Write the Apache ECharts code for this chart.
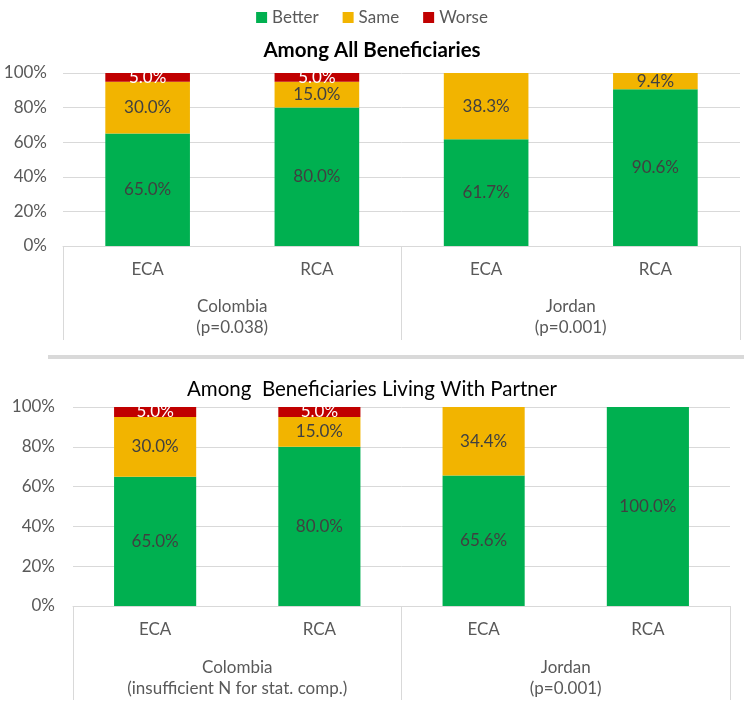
<!DOCTYPE html>
<html><head><meta charset="utf-8">
<script src="https://cdn.jsdelivr.net/npm/echarts@6/dist/echarts.min.js"></script>
<style>html,body{margin:0;padding:0;background:#fff}#c{width:744px;height:713px}</style>
</head><body><div id="c"></div>
<script>
const subCats = ['ECA', 'RCA', 'ECA', 'RCA'];
const groupsTop = ['Colombia\n(p=0.038)', 'Jordan\n(p=0.001)'];
const groupsBottom = ['Colombia\n(insufficient N for stat. comp.)', 'Jordan\n(p=0.001)'];
const titleTop = 'Among All Beneficiaries';
const titleBottom = 'Among  Beneficiaries Living With Partner';
const seriesNames = ['Better', 'Same', 'Worse'];
const colors = ['#00B050', '#F2B400', '#C00000'];
const topBetter = [65.0, 80.0, 61.7, 90.6];
const topSame = [30.0, 15.0, 38.3, 9.4];
const topWorse = [5.0, 5.0, 0, 0];
const botBetter = [65.0, 80.0, 65.6, 100.0];
const botSame = [30.0, 15.0, 34.4, 0];
const botWorse = [5.0, 5.0, 0, 0];
const yTicks = [0, 20, 40, 60, 80, 100];

const FONT = 'Lato';
const gray = '#595959';
const lineC = '#d9d9d9';
const FS = 17;

function mkSeries(vals, idx, axisIdx) {
  return {
    name: seriesNames[idx], type: 'bar', stack: 's' + axisIdx,
    xAxisIndex: axisIdx, yAxisIndex: axisIdx / 2,
    barWidth: '50%', data: vals,
    itemStyle: { color: colors[idx] },
    label: {
      show: true, position: 'inside', fontFamily: FONT, fontSize: FS,
      color: idx === 2 ? '#ffffff' : '#404040',
      formatter: p => p.value > 0 ? p.value.toFixed(1) + '%' : ''
    }
  };
}
function inner(gi) {
  return { type: 'category', gridIndex: gi, data: subCats, position: 'bottom',
    axisLine: { show: true, lineStyle: { color: lineC, width: 1 } },
    axisTick: { show: false },
    axisLabel: { margin: 15, fontFamily: FONT, fontSize: FS, color: gray } };
}
function outer(gi, data, m) {
  return { type: 'category', gridIndex: gi, data: data, position: 'bottom',
    boundaryGap: true,
    axisLine: { show: false },
    axisTick: { show: true, length: 94, lineStyle: { color: lineC, width: 1 } },
    axisLabel: { margin: m, fontFamily: FONT, fontSize: FS, color: gray, lineHeight: 21, interval: 0 } };
}
function yax(gi, m) {
  return { type: 'value', gridIndex: gi, min: 0, max: 100, interval: 20,
    axisLine: { show: false }, axisTick: { show: false },
    splitLine: { lineStyle: { color: lineC, width: 1 } },
    axisLabel: { margin: m, fontFamily: FONT, fontSize: FS, color: gray,
      formatter: v => yTicks.includes(v) ? v + '%' : '' } };
}

const chart = echarts.init(document.getElementById('c'), null, { renderer: 'canvas' });
chart.setOption({
  animation: false,
  backgroundColor: '#fff',
  legend: { data: seriesNames, top: 4, left: 'center', icon: 'rect', itemWidth: 11, itemHeight: 11, itemGap: 24,
    textStyle: { fontFamily: FONT, fontSize: FS, color: gray } },
  title: [
    { text: titleTop, left: 'center', top: 35, textStyle: { fontFamily: FONT, fontSize: 20.5, fontWeight: 'bold', color: '#000' } },
    { text: titleBottom, left: 'center', top: 374, textStyle: { fontFamily: FONT, fontSize: 20.5, fontWeight: 'normal', color: '#000' } }
  ],
  grid: [
    { left: 63, right: 4, top: 73, height: 173 },
    { left: 73, right: 14, top: 407, height: 199 }
  ],
  xAxis: [inner(0), outer(0, groupsTop, 50), inner(1), outer(1, groupsBottom, 51)],
  yAxis: [yax(0, 16), yax(1, 18)],
  series: [
    mkSeries(topBetter, 0, 0), mkSeries(topSame, 1, 0), mkSeries(topWorse, 2, 0),
    mkSeries(botBetter, 0, 2), mkSeries(botSame, 1, 2), mkSeries(botWorse, 2, 2)
  ],
  graphic: [
    { type: 'rect', shape: { x: 48, y: 355, width: 696, height: 4 }, style: { fill: '#d9d9d9' } }
  ]
});
</script></body></html>
